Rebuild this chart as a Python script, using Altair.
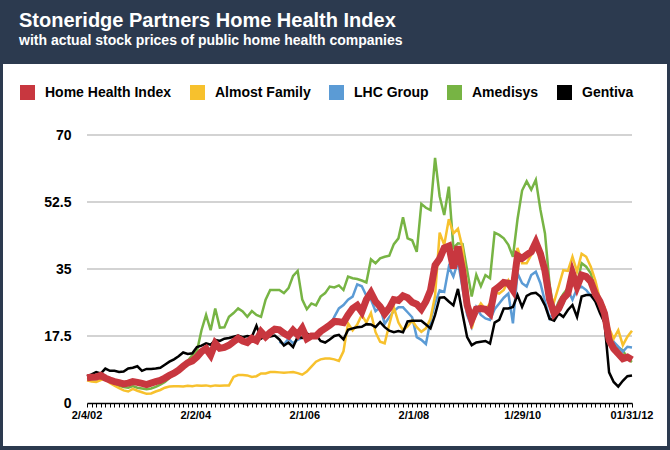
import altair as alt
import pandas as pd

# ---- data (monthly, Feb 2002 .. Jan 2012) ----
months = list(range(120))

home_health_index = [
    6.6, 6.7, 6.8, 7.2, 6.5, 6.0, 5.6, 5.3, 5.0, 5.2,
    5.6, 5.4, 5.1, 4.8, 5.2, 5.6, 5.9, 6.5, 7.2, 7.8,
    8.6, 9.6, 10.5, 11.0, 12.0, 13.4, 14.2, 12.5, 15.6, 14.3,
    14.5, 15.1, 16.0, 16.9, 16.2, 15.8, 16.9, 16.3, 18.6, 17.3,
    18.4, 19.3, 19.1, 18.2, 17.5, 19.0, 17.8, 19.5, 16.8, 17.5,
    17.5, 18.7, 19.5, 20.3, 21.3, 21.2, 21.0, 23.0, 24.7, 25.5,
    23.8, 27.0, 28.8, 26.5, 25.2, 23.3, 24.8, 27.0, 26.8, 28.0,
    27.5, 26.3, 25.8, 24.5, 26.5, 29.4, 36.0, 37.7, 40.5, 41.0,
    35.2, 40.9, 34.7, 25.6, 21.7, 24.5, 24.7, 24.5, 23.4, 29.5,
    30.4, 31.5, 31.3, 29.5, 38.5, 37.8, 38.7, 39.5, 42.0, 39.0,
    34.5, 27.0, 23.4, 24.7, 27.3, 28.6, 33.9, 30.4, 33.4, 33.0,
    31.7, 28.5, 26.5, 23.4, 16.4, 14.2, 12.9, 11.6, 12.0, 11.3,
]

almost_family = [
    5.9, 5.6, 5.5, 6.0, 6.3, 5.2, 4.5, 3.9, 3.3, 3.0,
    3.7, 3.2, 2.8, 2.4, 2.5, 3.0, 3.4, 4.0, 4.3, 4.4,
    4.4, 4.3, 4.5, 4.4, 4.6, 4.5, 4.6, 4.4, 4.6, 4.5,
    4.6, 4.6, 6.8, 7.3, 7.3, 7.2, 6.8, 7.0, 7.7, 7.7,
    8.1, 8.1, 8.0, 7.9, 8.0, 8.1, 7.8, 7.4, 8.2, 9.5,
    10.8, 11.4, 11.6, 11.6, 11.4, 11.0, 13.5, 20.8, 19.0, 20.5,
    23.0, 21.0, 23.5, 18.5, 16.0, 15.6, 20.5, 25.0, 21.0, 19.0,
    20.0, 21.5, 19.8, 18.6, 19.5, 22.0, 28.0, 44.5, 41.3, 48.0,
    44.3, 45.5, 40.5, 30.0, 19.5, 24.0, 26.0, 24.5, 26.0, 29.0,
    28.6, 29.5, 32.0, 29.5, 40.5, 36.5, 36.5, 38.7, 40.9, 37.5,
    35.0, 28.0, 26.5, 30.5, 34.7, 34.5, 38.2, 34.3, 39.0, 38.2,
    35.6, 32.0, 27.0, 25.1, 19.5, 16.8, 19.0, 15.1, 17.3, 18.9,
]

lhc_group = [None] * 42 + [
    16.0, 15.3, 16.8, 15.6, 16.5, 17.0, 17.5, 17.2,
    18.0, 18.3, 19.0, 20.0, 22.5, 24.7, 25.6, 27.0, 27.8, 31.0,
    30.5, 28.0, 27.0, 24.0, 25.0, 20.7, 22.4, 24.0, 25.0, 25.0,
    23.7, 22.4, 17.2, 16.5, 15.4, 21.5, 26.0, 29.4, 29.0, 35.5,
    33.0, 37.0, 30.0, 23.0, 19.9, 25.0, 23.0, 22.1, 21.7, 24.5,
    26.0, 27.5, 28.6, 20.8, 33.9, 31.3, 30.4, 33.4, 34.3, 31.3,
    26.5, 22.1, 23.8, 25.1, 26.0, 29.5, 27.0, 29.9, 30.4, 29.5,
    28.0, 26.9, 24.5, 22.0, 18.2, 16.0, 14.7, 13.4, 14.7, 14.5,
]

amedisys = [
    6.2, 6.3, 6.2, 6.8, 6.2, 5.5, 5.0, 4.5, 4.2, 4.0,
    4.4, 4.0, 3.8, 3.6, 3.8, 4.2, 4.8, 5.5, 6.5, 7.5,
    8.8, 10.0, 11.0, 12.5, 13.5, 19.0, 23.0, 19.0, 24.7, 19.7,
    19.8, 22.5, 23.5, 24.7, 23.9, 22.5, 24.0, 23.0, 22.5, 27.0,
    29.5, 29.5, 29.5, 28.7, 30.0, 33.2, 34.5, 27.0, 24.5, 26.0,
    25.5, 27.8, 28.7, 30.4, 30.2, 30.7, 29.5, 33.0, 32.6, 32.4,
    32.0, 31.5, 37.5, 36.5, 37.8, 38.2, 38.5, 41.5, 43.0, 48.5,
    43.0, 42.5, 39.5, 52.0, 51.0, 50.4, 64.0, 54.0, 49.1, 56.5,
    40.5, 41.7, 41.5, 34.7, 27.8, 33.5, 30.5, 33.4, 32.6, 44.5,
    43.9, 43.0, 41.3, 38.2, 48.0, 55.5, 57.9, 55.7, 58.3, 50.5,
    44.3, 31.0, 23.5, 26.5, 28.5, 30.0, 33.0, 31.0, 36.5, 35.6,
    33.9, 29.5, 25.5, 24.0, 18.2, 15.5, 14.5, 13.8, 11.6, 10.7,
]

gentiva = [
    7.0, 7.5, 8.1, 7.7, 9.0, 8.4, 8.4, 8.1, 8.2, 9.0,
    9.2, 9.6, 8.4, 8.9, 8.9, 9.0, 9.2, 10.0, 10.8, 11.4,
    12.2, 13.2, 12.8, 13.0, 14.6, 15.0, 15.6, 15.2, 16.5, 16.2,
    16.8, 17.0, 17.3, 17.6, 17.2, 17.5, 17.3, 20.2, 16.8, 17.5,
    17.4, 17.6, 16.6, 15.0, 15.8, 14.6, 17.3, 17.0, 18.2, 17.5,
    17.8, 16.2, 15.8, 16.6, 17.5, 17.8, 16.6, 19.1, 19.5, 19.8,
    19.9, 20.6, 20.5, 19.8, 21.1, 19.8, 18.9, 18.5, 18.8, 18.5,
    21.3, 21.5, 21.5, 21.5, 20.5, 19.5, 23.0, 27.5, 27.6, 26.5,
    25.5, 29.8, 23.3, 17.2, 15.1, 15.8, 16.0, 16.2, 15.5, 21.0,
    21.7, 24.7, 24.7, 25.1, 28.2, 25.1, 28.0, 28.6, 28.8, 27.8,
    25.5, 22.0, 21.5, 23.4, 22.5, 24.3, 25.6, 22.5, 27.8, 28.2,
    28.2, 26.5, 23.5, 21.0, 8.0, 5.5, 4.3, 5.8, 7.0, 7.2,
]

series_names = ["Home Health Index", "Almost Family", "LHC Group", "Amedisys", "Gentiva"]
series_colors = ["#c8373f", "#f7c12d", "#5b9bd5", "#77b444", "#000000"]
y_ticks = [0, 17.5, 35, 52.5, 70]
x_label_text = ["2/4/02", "2/2/04", "2/1/06", "2/1/08", "1/29/10", "01/31/12"]

# ---- tables ----
series_values = {
    "Home Health Index": home_health_index,
    "Almost Family": almost_family,
    "LHC Group": lhc_group,
    "Amedisys": amedisys,
    "Gentiva": gentiva,
}
rows = []
for name, vals in series_values.items():
    for m, v in zip(months, vals):
        if v is not None:
            rows.append({"x": m, "y": v, "series": name})
df = pd.DataFrame(rows)

label_dates = pd.to_datetime(x_label_text, format="%m/%d/%y")
span = (label_dates[-1] - label_dates[0]).days
label_df = pd.DataFrame({
    "x": [(d - label_dates[0]).days / span * (len(months) - 1) for d in label_dates],
    "label": x_label_text,
})
grid_df = pd.DataFrame({"y": y_ticks[1:]})
legend_df = pd.DataFrame({"series": series_names})

FONT = "Liberation Sans"
NAVY = "#2c3a4f"

X = alt.X(
    "x:Q",
    scale=alt.Scale(domain=[0, len(months) - 1], nice=False, zero=False),
    axis=alt.Axis(values=months, labels=False, ticks=True, tickSize=4, tickColor="black",
                  tickWidth=1, domainColor="black", domainWidth=1.5, grid=False,
                  title=None, zindex=1),
)
Y = alt.Y(
    "y:Q",
    scale=alt.Scale(domain=[0, 70], nice=False),
    axis=alt.Axis(values=y_ticks, labelExpr="'' + datum.value", labelFont=FONT,
                  labelFontSize=14, labelFontWeight="bold", labelColor="black",
                  domain=False, ticks=False, grid=False, labelPadding=16, title=None,
                  zindex=1),
)
stroke = alt.Stroke(
    "series:N", scale=alt.Scale(domain=series_names, range=series_colors), legend=None
)
fill = alt.Fill(
    "series:N",
    scale=alt.Scale(domain=series_names, range=series_colors),
    legend=alt.Legend(
        title=None, orient="none", legendX=-67, legendY=-50, direction="horizontal",
        symbolType="square", symbolSize=225, symbolStrokeWidth=0, symbolOpacity=1,
        labelFont=FONT, labelFontSize=14, labelFontWeight="bold", labelColor="black",
        labelOffset=10, columnPadding=18, zindex=1,
    ),
)

panel = alt.Chart(pd.DataFrame({"k": [0]})).mark_rect(color="white").encode(
    x=alt.value(-84), x2=alt.value(580), y=alt.value(-71), y2=alt.value(311)
)
grid = alt.Chart(grid_df).mark_rule(color="#a8a8a8", strokeWidth=1.2).encode(y=Y)
legend_keys = alt.Chart(legend_df).mark_square(size=0, opacity=1, filled=True).encode(
    fill=fill, x=alt.value(0), y=alt.value(0)
)

draw_order = ["Amedisys", "LHC Group", "Almost Family", "Gentiva", "Home Health Index"]
widths = {"Amedisys": 2.5, "LHC Group": 2.5, "Almost Family": 2.5, "Gentiva": 2.5,
          "Home Health Index": 7}
lines = [
    alt.Chart(df[df["series"] == name]).mark_line(strokeWidth=widths[name]).encode(
        x=X, y=Y, stroke=stroke
    )
    for name in draw_order
]

xlabels = alt.Chart(label_df).mark_text(
    font=FONT, fontSize=11, fontWeight="bold", color="black", align="center", baseline="middle"
).encode(x=X, y=alt.value(281), text="label:N")

chart = alt.layer(panel, grid, legend_keys, *lines, xlabels).properties(
    width=545,
    height=268,
    background=NAVY,
    padding={"left": 87, "top": 135, "right": 38, "bottom": 47},
    autosize=alt.AutoSizeParams(type="none"),
    title=alt.TitleParams(
        text="Stoneridge Partners Home Health Index",
        subtitle="with actual stock prices of public home health companies",
        anchor="start", frame="group", dx=-68, offset=16,
        color="white", font=FONT, fontSize=20, fontWeight="bold",
        subtitleColor="white", subtitleFont=FONT, subtitleFontSize=14,
        subtitleFontWeight="bold", subtitlePadding=3,
    ),
).configure_view(stroke=None)

chart.save("out.html", embed_options={"renderer": "svg", "actions": False})
